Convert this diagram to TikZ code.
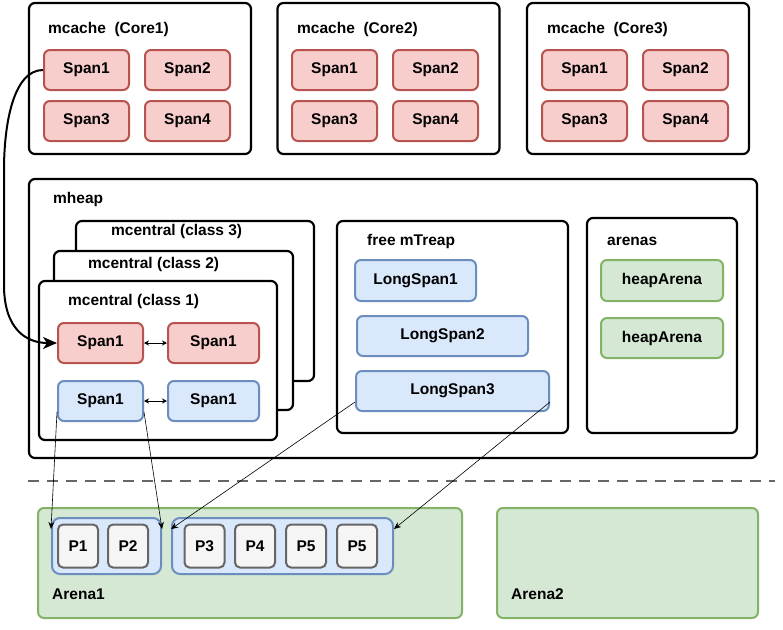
\documentclass[tikz,border=0pt]{standalone}
\usepackage{fontspec}
\setmainfont{Liberation Sans}
\usetikzlibrary{arrows.meta, positioning, calc}
\definecolor{redfill}{HTML}{F8CECC}
\definecolor{redline}{HTML}{B85450}
\definecolor{bluefill}{HTML}{DAE8FC}
\definecolor{blueline}{HTML}{6C8EBF}
\definecolor{greenfill}{HTML}{D5E8D4}
\definecolor{greenline}{HTML}{82B366}
\definecolor{pagefill}{HTML}{F5F5F5}
\definecolor{pageline}{HTML}{666666}
\newcommand{\boxfont}{\fontsize{15.5}{18}\selectfont\bfseries}
\tikzstyle{container} = [rectangle, rounded corners=6pt, draw=black, line width=2.2pt, fill=white, inner sep=0pt]
\tikzstyle{title} = [anchor=west, inner sep=0pt, font=\boxfont]
\tikzstyle{redspan} = [rectangle, rounded corners=6pt, draw=redline, fill=redfill, line width=2pt, minimum width=85pt, minimum height=40pt, inner sep=0pt, font=\boxfont]
\tikzstyle{bluespan} = [rectangle, rounded corners=6pt, draw=blueline, fill=bluefill, line width=2pt, minimum height=40pt, inner sep=0pt, font=\boxfont]
\tikzstyle{greenbox} = [rectangle, rounded corners=6pt, draw=greenline, fill=greenfill, line width=2pt, inner sep=0pt, font=\boxfont]
\tikzstyle{pagebox} = [rectangle, rounded corners=5pt, draw=pageline, fill=pagefill, line width=2pt, minimum width=40pt, minimum height=43pt, inner sep=0pt, font=\boxfont]
\tikzstyle{bigarrow} = [line width=2pt, -{Stealth[length=14pt, width=12pt, inset=4pt]}]
\tikzstyle{linkarrow} = [line width=0.8pt, {Stealth[length=5pt, width=5pt]}-{Stealth[length=5pt, width=5pt]}]
\tikzstyle{thinarrow} = [line width=0.6pt, -{Stealth[length=7pt, width=6pt]}]

\begin{document}
\begin{tikzpicture}[x=1pt, y=-1pt, node distance=14pt]
\useasboundingbox (0,0) rectangle (783,629);

% --- mcache per core ---
\node (mcache1) [container, minimum width=222pt, minimum height=151pt] at (140,78.5) {};
\node (mcache1t) [title] at (48,29) {mcache\ \ (Core1)};
\node (c1s1) [redspan] at (86.5,70) {Span1};
\node (c1s2) [redspan, right=of c1s1] {Span2};
\node (c1s3) [redspan, below=9pt of c1s1] {Span3};
\node (c1s4) [redspan, right=of c1s3] {Span4};

\node (mcache2) [container, minimum width=222pt, minimum height=151pt] at (388.5,78.5) {};
\node (mcache2t) [title] at (297,29) {mcache\ \ (Core2)};
\node (c2s1) [redspan] at (334.5,70) {Span1};
\node (c2s2) [redspan, right=of c2s1] {Span2};
\node (c2s3) [redspan, below=9pt of c2s1] {Span3};
\node (c2s4) [redspan, right=of c2s3] {Span4};

\node (mcache3) [container, minimum width=222pt, minimum height=151pt] at (638,78.5) {};
\node (mcache3t) [title] at (547,29) {mcache\ \ (Core3)};
\node (c3s1) [redspan] at (584.5,70) {Span1};
\node (c3s2) [redspan, right=of c3s1] {Span2};
\node (c3s3) [redspan, below=9pt of c3s1] {Span3};
\node (c3s4) [redspan, right=of c3s3] {Span4};

% --- mheap ---
\node (mheap) [container, minimum width=728pt, minimum height=279pt] at (393,318.5) {};
\node (mheapt) [title] at (53,199) {mheap};

% mcentral stack
\node (central3) [container, minimum width=238pt, minimum height=160pt] at (195,301) {};
\node (central3t) [title] at (111,231) {mcentral (class 3)};
\node (central2) [container, minimum width=239pt, minimum height=159pt] at (173.5,330.5) {};
\node (central2t) [title] at (88,264) {mcentral (class 2)};
\node (central1) [container, minimum width=238pt, minimum height=159pt] at (158,360.5) {};
\node (central1t) [title] at (68,301) {mcentral (class 1)};
\node (ctrRedA) [redspan] at (100.5,343) {Span1};
\node (ctrRedB) [redspan, minimum width=91pt] at (213.5,343) {Span1};
\node (ctrBlueA) [bluespan, minimum width=85pt] at (100.5,401) {Span1};
\node (ctrBlueB) [bluespan, minimum width=91pt] at (213.5,401) {Span1};

% free mTreap
\node (treap) [container, minimum width=231pt, minimum height=212pt] at (452.5,327) {};
\node (treapt) [title] at (367,241) {free mTreap};
\node (ls1) [bluespan, minimum width=121pt, minimum height=41pt] at (415.5,280.5) {LongSpan1};
\node (ls2) [bluespan, minimum width=171pt] at (442.5,336) {LongSpan2};
\node (ls3) [bluespan, minimum width=193pt] at (452.5,391) {LongSpan3};

% arenas
\node (arenas) [container, minimum width=150pt, minimum height=215pt] at (662,325.5) {};
\node (arenast) [title] at (607,241) {arenas};
\node (ha1) [greenbox, minimum width=122pt, minimum height=41pt] at (662,280.5) {heapArena};
\node (ha2) [greenbox, minimum width=122pt, minimum height=40pt] at (662,338) {heapArena};

% --- separator ---
\coordinate (sepL) at (28,481);
\coordinate (sepR) at (775,481);
\draw [line width=2.5pt, draw=pageline, dash pattern=on 11pt off 8pt] (sepL) -- (sepR);

% --- Arenas in memory ---
\node (arena1) [greenbox, minimum width=424pt, minimum height=110pt] at (250,563) {};
\node (arena1t) [title] at (52,594) {Arena1};
\node (arena2) [greenbox, minimum width=261pt, minimum height=110pt] at (627.5,563) {};
\node (arena2t) [title] at (511,594) {Arena2};

\node (grp1) [bluespan, minimum width=109pt, minimum height=56pt, rounded corners=8pt] at (106.5,546) {};
\node (grp2) [bluespan, minimum width=221pt, minimum height=56pt, rounded corners=8pt] at (282.5,546) {};
\node (p1) [pagebox] at (78,546) {P1};
\node (p2) [pagebox] at (128,546) {P2};
\node (p3) [pagebox] at (204.5,546) {P3};
\node (p4) [pagebox] at (255,546) {P4};
\node (p5) [pagebox] at (306,546) {P5};
\node (p6) [pagebox] at (357,546) {P5};

% --- Connections ---
% mcache span handed to mcentral
\draw [bigarrow] (c1s1.west) .. controls +(-30,0) and +(0,-45) .. (4,170) -- (4,285) .. controls +(0,45) and +(-30,0) .. (ctrRedA.west);

% span lists
\draw [linkarrow] (ctrRedA.east) -- (ctrRedB.west);
\draw [linkarrow] (ctrBlueA.east) -- (ctrBlueB.west);

% spans to pages
\draw [thinarrow] ([yshift=10pt]ctrBlueA.south west) -- ([yshift=-12pt]grp1.north west);
\draw [thinarrow] ([yshift=10pt]ctrBlueA.south east) -- ([yshift=-12pt]grp1.north east);
\draw [thinarrow] ([yshift=10pt]ls3.south west) -- ([yshift=-12pt]grp2.north west);
\draw [thinarrow] ([yshift=10pt]ls3.south east) -- ([yshift=-12pt]grp2.north east);

\end{tikzpicture}
\end{document}
